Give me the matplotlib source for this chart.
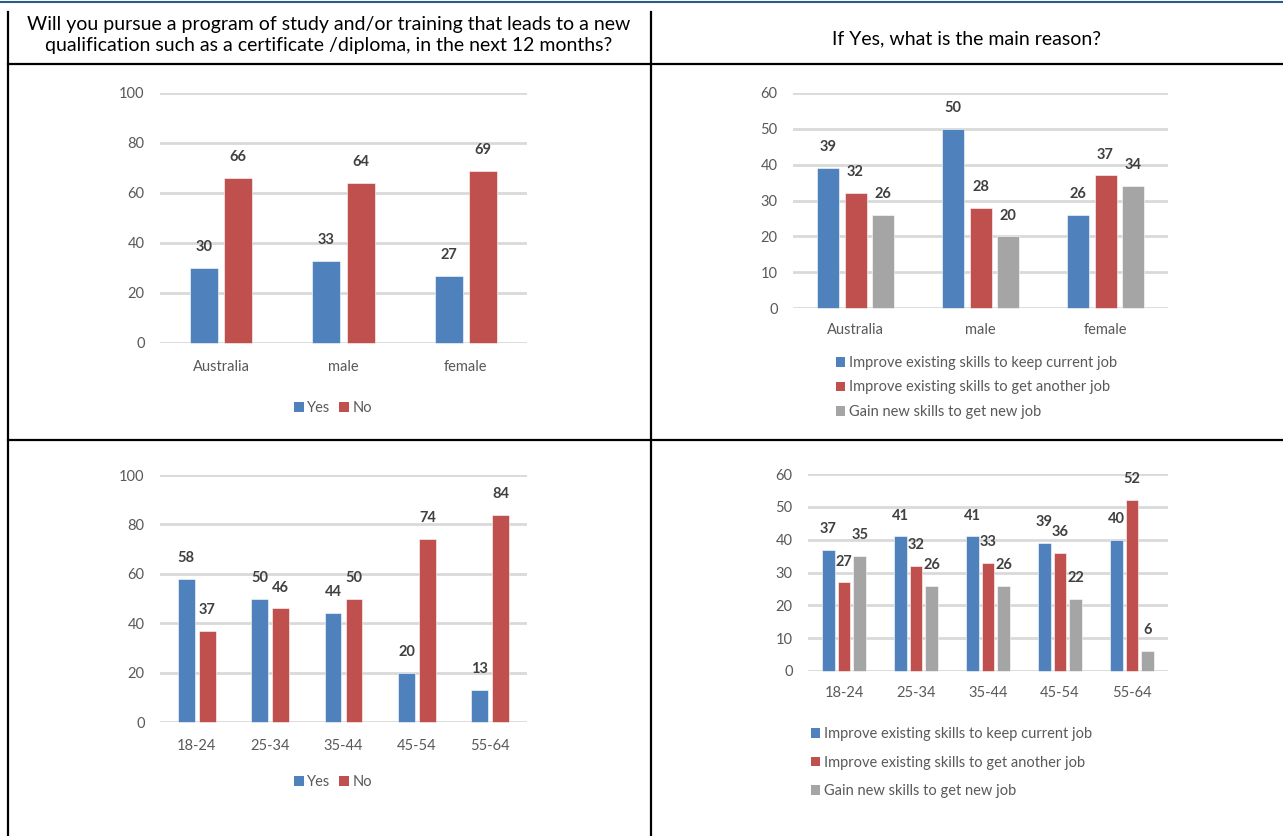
import matplotlib.pyplot as plt
from matplotlib.lines import Line2D
from matplotlib.patches import Patch
import numpy as np

plt.rcParams['font.family'] = ['Lato', 'DejaVu Sans']

# Survey data
regions = ['Australia', 'male', 'female']
region_yes = [30, 33, 27]
region_no = [66, 64, 69]

ages = ['18-24', '25-34', '35-44', '45-54', '55-64']
age_yes = [58, 50, 44, 20, 13]
age_no = [37, 46, 50, 74, 84]

reasons = ['Improve existing skills to keep current job',
           'Improve existing skills to get another job',
           'Gain new skills to get new job']
region_keep = [39, 50, 26]
region_another = [32, 28, 37]
region_new = [26, 20, 34]

age_keep = [37, 41, 41, 39, 40]
age_another = [27, 32, 33, 36, 52]
age_new = [35, 26, 26, 22, 6]

BLUE = '#4f81bd'
RED = '#c0504d'
GREY = '#a5a5a5'
TICK = '#595959'
LABEL = '#404040'

W, H = 1283, 836
fig = plt.figure(figsize=(W / 100, H / 100), dpi=100)


def fx(x):
    return x / W


def fy(y):
    return 1 - y / H


def make_axes(left, right, top, bottom):
    return fig.add_axes([fx(left), fy(bottom), fx(right) - fx(left), fy(top) - fy(bottom)])


def style(ax, cats, ymax, step, xpad):
    ax.set_xlim(-0.5, len(cats) - 0.5)
    ax.set_ylim(0, ymax)
    ax.set_yticks(np.arange(0, ymax + 1, step))
    ax.set_xticks(range(len(cats)))
    ax.set_xticklabels(cats)
    for s in ax.spines.values():
        s.set_visible(False)
    ax.tick_params(axis='both', length=0, colors=TICK, labelsize=10.5)
    ax.tick_params(axis='y', pad=11)
    ax.tick_params(axis='x', pad=xpad)
    ax.grid(axis='y', color='#d9d9d9', lw=2)
    ax.set_axisbelow(True)


def bars(ax, series, colors, width, step):
    n = len(series)
    x = np.arange(len(series[0]))
    for i, (vals, c) in enumerate(zip(series, colors)):
        off = (i - (n - 1) / 2) * step
        b = ax.bar(x + off, vals, width, color=c, edgecolor='white', linewidth=0.4, clip_on=False)
        for rect, v in zip(b, vals):
            ax.annotate(str(v), (rect.get_x() + rect.get_width() / 2, v),
                        xytext=(0, 15), textcoords='offset points',
                        ha='center', va='center', fontsize=10.5,
                        fontweight='bold', color=LABEL)


def legend(ax, colors, labels, anchor, **kw):
    handles = [Patch(facecolor=c, edgecolor='none') for c in colors]
    ax.legend(handles, labels, frameon=False, bbox_to_anchor=anchor,
              bbox_transform=fig.transFigure, fontsize=10.5, handlelength=0.65,
              handleheight=0.65, handletextpad=0.25, labelcolor=TICK,
              borderpad=0, borderaxespad=0, **kw)


# Top left: yes/no by region
ax1 = make_axes(160, 527, 93, 343)
style(ax1, regions, 100, 20, 12)
bars(ax1, [region_yes, region_no], [BLUE, RED], 0.23, 0.28)
legend(ax1, [BLUE, RED], ['Yes', 'No'], (fx(333), fy(408)), loc='center', ncol=2,
       columnspacing=0.6)

# Top right: main reason by region
ax2 = make_axes(793, 1168, 93, 308)
style(ax2, regions, 60, 10, 10.5)
bars(ax2, [region_keep, region_another, region_new], [BLUE, RED, GREY], 0.176, 0.22)
legend(ax2, [BLUE, RED, GREY], reasons, (fx(836), fy(356)), loc='upper left',
       labelspacing=0.72)

# Bottom left: yes/no by age group
ax3 = make_axes(160, 527, 475, 722)
style(ax3, ages, 100, 20, 12)
bars(ax3, [age_yes, age_no], [BLUE, RED], 0.23, 0.285)
legend(ax3, [BLUE, RED], ['Yes', 'No'], (fx(333), fy(782)), loc='center', ncol=2,
       columnspacing=0.6)

# Bottom right: main reason by age group
ax4 = make_axes(808, 1168, 474, 671)
style(ax4, ages, 60, 10, 10.5)
bars(ax4, [age_keep, age_another, age_new], [BLUE, RED, GREY], 0.18, 0.22)
legend(ax4, [BLUE, RED, GREY], reasons, (fx(811), fy(727)), loc='upper left',
       labelspacing=1.0)

# Table frame and header row
line_kw = dict(color='black', lw=1.6, transform=fig.transFigure)
fig.add_artist(Line2D([0, 1], [fy(1.5), fy(1.5)], color='#2e5a8a', lw=1.5, transform=fig.transFigure))
fig.add_artist(Line2D([fx(8), fx(8)], [fy(12), 0], **line_kw))
fig.add_artist(Line2D([fx(651), fx(651)], [fy(12), 0], **line_kw))
fig.add_artist(Line2D([fx(8), 1], [fy(64), fy(64)], **line_kw))
fig.add_artist(Line2D([fx(8), 1], [fy(440), fy(440)], **line_kw))

fig.text(fx(329), fy(35), 'Will you pursue a program of study and/or training that leads to a new\n'
         'qualification such as a certificate /diploma, in the next 12 months?',
         ha='center', va='center', fontsize=14, linespacing=1.25, color='black')
fig.text(fx(966), fy(39), 'If Yes, what is the main reason?', ha='center', va='center',
         fontsize=14, color='black')

fig.savefig('out.png', dpi=100)
